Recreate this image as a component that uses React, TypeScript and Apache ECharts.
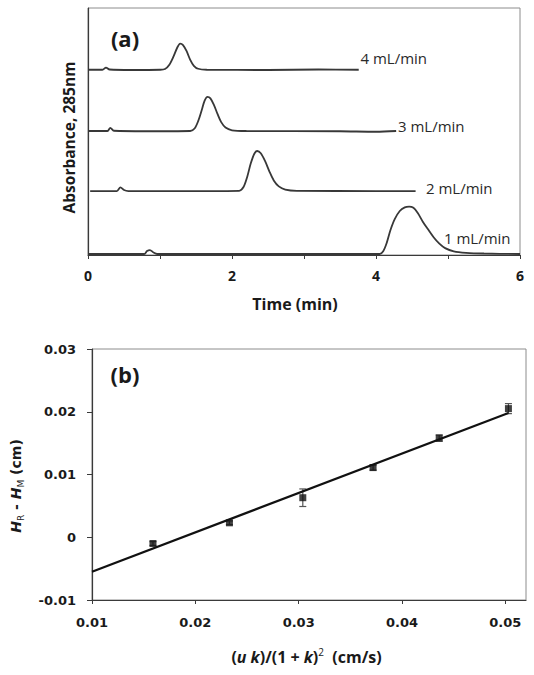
import React, { useEffect, useRef } from "react";
import * as echarts from "echarts";

// ---------- Panel (a): chromatograms (time in min, absorbance in arbitrary units, offset) ----------
const timeTickLabels = [0, 2, 4, 6];

const flow4 = [
  [0, 75], [0.2, 75], [0.25, 75.9], [0.3, 75.1], [0.6, 74.9], [1.0, 75], [1.07, 75.3],
  [1.13, 77], [1.19, 80.5], [1.24, 84], [1.28, 85.6], [1.32, 85], [1.37, 82.5], [1.42, 79],
  [1.47, 76.6], [1.53, 75.4], [1.65, 75], [2.5, 74.9], [3.2, 75.1], [3.76, 75],
];
const flow3 = [
  [0, 50.2], [0.27, 50.2], [0.31, 51.5], [0.36, 50.3], [0.8, 50.1], [1.42, 50.2], [1.48, 51.2],
  [1.53, 54.2], [1.58, 58.7], [1.62, 62.5], [1.66, 64], [1.7, 63.4], [1.75, 60.7], [1.8, 57],
  [1.85, 53.8], [1.91, 51.6], [2.0, 50.5], [2.2, 50.2], [3.5, 50.1], [4.0, 49.9], [4.28, 50.2],
];
const flow2 = [
  [0.03, 25.9], [0.4, 25.9], [0.45, 27.4], [0.5, 26.3], [0.56, 25.9], [1.5, 25.9], [2.1, 26],
  [2.16, 27.5], [2.21, 31.5], [2.26, 37], [2.31, 41], [2.35, 42.1], [2.4, 41.2], [2.46, 38],
  [2.52, 33.8], [2.58, 30.2], [2.65, 27.8], [2.74, 26.5], [2.9, 26], [4.0, 25.9], [4.55, 25.9],
];
const flow1 = [
  [0, 0.4], [0.78, 0.4], [0.82, 1.6], [0.86, 2.0], [0.91, 1.0], [0.96, 0.4], [4.05, 0.4],
  [4.1, 1.5], [4.15, 5], [4.2, 10], [4.26, 14.5], [4.33, 17.8], [4.4, 19.3], [4.46, 19.6],
  [4.52, 19.1], [4.58, 17], [4.65, 13.5], [4.72, 10.5], [4.8, 7.2], [4.88, 4.6], [4.96, 2.8],
  [5.08, 1.5], [5.25, 0.9], [5.5, 0.6], [6, 0.4],
];
const flowLabels = ["4 mL/min", "3 mL/min", "2 mL/min", "1 mL/min"];

// ---------- Panel (b): plate height difference vs (uk)/(1+k)^2 ----------
const xVals = [0.0159, 0.0233, 0.0304, 0.0372, 0.0436, 0.0503];
const yVals = [-0.001, 0.0023, 0.0063, 0.0111, 0.0158, 0.0205];
const yErrs = [0.0003, 0.0003, 0.0014, 0.0004, 0.0005, 0.0008];
const fitX = [0.01, 0.0503];
const fitY = [-0.0055, 0.0198];

const FONT_A = "'Open Sans', 'Liberation Sans', sans-serif";
const FONT_B = "'DejaVu Sans', 'Liberation Sans', sans-serif";

function buildOption(): any {
  const traceStyle = { color: "#383838", width: 1.8 };
  const traces = [flow4, flow3, flow2, flow1].map((d, i) => ({
    type: "line",
    name: flowLabels[i],
    xAxisIndex: 0,
    yAxisIndex: 0,
    data: d,
    showSymbol: false,
    symbol: "none",
    smooth: 0.3,
    lineStyle: traceStyle,
    itemStyle: { color: "#383838" },
  }));

  const labelPos = [
    [360.5, 58],
    [398, 126],
    [426, 188],
    [444, 238],
  ];

  const txt = (text: string, x: number, y: number, font: string, extra: any = {}) => ({
    type: "text",
    x,
    y,
    style: {
      text,
      font,
      fill: "#1a1a1a",
      align: "center",
      verticalAlign: "middle",
      textAlign: "center",
      textVerticalAlign: "middle",
      ...extra,
    },
  });

  return {
    animation: false,
    backgroundColor: "#ffffff",
    grid: [
      { left: 88, top: 8, width: 432, height: 247, show: true, borderColor: "#8c8c8c", borderWidth: 1, backgroundColor: "transparent" },
      { left: 92, top: 349, width: 434, height: 251, show: true, borderColor: "#8c8c8c", borderWidth: 1, backgroundColor: "transparent" },
    ],
    xAxis: [
      {
        gridIndex: 0,
        type: "value",
        min: 0,
        max: 6,
        interval: 1,
        axisLine: { show: true, onZero: false, lineStyle: { color: "#3a3a3a", width: 1.2 } },
        axisTick: { show: true, length: 4, lineStyle: { color: "#3a3a3a" } },
        axisLabel: {
          formatter: (v: number) => (timeTickLabels.includes(Math.round(v)) && Math.abs(v - Math.round(v)) < 1e-9 ? String(Math.round(v)) : ""),
          fontFamily: FONT_A,
          fontWeight: "bold",
          fontSize: 14,
          color: "#1a1a1a",
          margin: 13,
        },
        splitLine: { show: false },
      },
      {
        gridIndex: 1,
        type: "value",
        min: 0.01,
        max: 0.052,
        interval: 0.01,
        axisLine: { show: true, onZero: false, lineStyle: { color: "#3a3a3a", width: 1.2 } },
        axisTick: { show: true, length: 4, lineStyle: { color: "#3a3a3a" } },
        axisLabel: {
          showMaxLabel: false,
          formatter: (v: number) => v.toFixed(2),
          fontFamily: FONT_B,
          fontWeight: "bold",
          fontSize: 13,
          color: "#1a1a1a",
          margin: 16,
        },
        splitLine: { show: false },
      },
    ],
    yAxis: [
      {
        gridIndex: 0,
        type: "value",
        min: 0,
        max: 100,
        axisLine: { show: true, onZero: false, lineStyle: { color: "#3a3a3a", width: 1.2 } },
        axisTick: { show: false },
        axisLabel: { show: false },
        splitLine: { show: false },
      },
      {
        gridIndex: 1,
        type: "value",
        min: -0.01,
        max: 0.03,
        interval: 0.01,
        axisLine: { show: true, onZero: false, lineStyle: { color: "#3a3a3a", width: 1.2 } },
        axisTick: { show: true, length: 5, lineStyle: { color: "#3a3a3a" } },
        axisLabel: {
          formatter: (v: number) => (Math.abs(v) < 1e-9 ? "0" : v.toFixed(2)),
          fontFamily: FONT_B,
          fontWeight: "bold",
          fontSize: 13,
          color: "#1a1a1a",
          margin: 16,
        },
        splitLine: { show: false },
      },
    ],
    series: [
      ...traces,
      {
        type: "custom",
        xAxisIndex: 1,
        yAxisIndex: 1,
        data: xVals.map((x, i) => [x, yVals[i] - yErrs[i], yVals[i] + yErrs[i]]),
        encode: { x: 0, y: [1, 2] },
        z: 3,
        renderItem: (params: any, api: any) => {
          const lo = api.coord([api.value(0), api.value(1)]);
          const hi = api.coord([api.value(0), api.value(2)]);
          const w = 3.5;
          const st = { stroke: "#555", lineWidth: 1.2 };
          return {
            type: "group",
            children: [
              { type: "line", shape: { x1: lo[0], y1: lo[1], x2: hi[0], y2: hi[1] }, style: st },
              { type: "line", shape: { x1: lo[0] - w, y1: lo[1], x2: lo[0] + w, y2: lo[1] }, style: st },
              { type: "line", shape: { x1: hi[0] - w, y1: hi[1], x2: hi[0] + w, y2: hi[1] }, style: st },
            ],
          };
        },
      },
      {
        type: "line",
        xAxisIndex: 1,
        yAxisIndex: 1,
        data: fitX.map((x, i) => [x, fitY[i]]),
        showSymbol: false,
        symbol: "none",
        lineStyle: { color: "#111", width: 2.2 },
        z: 4,
      },
      {
        type: "scatter",
        xAxisIndex: 1,
        yAxisIndex: 1,
        data: xVals.map((x, i) => [x, yVals[i]]),
        symbol: "rect",
        symbolSize: 7,
        itemStyle: { color: "#111" },
        z: 5,
      },
    ],
    graphic: [
      txt("(a)", 125, 38, `bold 22px ${FONT_A}`),
      txt("(b)", 125, 374, `bold 22px ${FONT_A}`),
      ...flowLabels.map((t, i) =>
        txt(t, labelPos[i][0], labelPos[i][1], `15px ${FONT_A}`, { align: "left", textAlign: "left", fill: "#2a2a2a" })
      ),
      txt("Time (min)", 295, 303.5, `bold 16px ${FONT_A}`),
      {
        type: "text",
        x: 69,
        y: 137.5,
        rotation: Math.PI / 2,
        style: {
          text: "Absorbance, 285nm",
          font: `bold 15.5px ${FONT_A}`,
          fill: "#1a1a1a",
          align: "center",
          verticalAlign: "middle",
          textAlign: "center",
          textVerticalAlign: "middle",
        },
      },
      {
        type: "text",
        x: 16,
        y: 486,
        rotation: Math.PI / 2,
        style: {
          text: "{i|H}{s|R}{n| - }{i|H}{s|M}{n| (cm)}",
          align: "center",
          verticalAlign: "middle",
          textAlign: "center",
          textVerticalAlign: "middle",
          fill: "#1a1a1a",
          rich: {
            i: { fontFamily: FONT_B, fontWeight: "bold", fontStyle: "italic", fontSize: 14, lineHeight: 18, fill: "#1a1a1a" },
            n: { fontFamily: FONT_B, fontWeight: "bold", fontSize: 14, lineHeight: 18, fill: "#1a1a1a" },
            s: { fontFamily: FONT_B, fontSize: 9, lineHeight: 18, verticalAlign: "bottom", fill: "#1a1a1a" },
          },
        },
      },
      {
        type: "text",
        x: 306.5,
        y: 656.5,
        style: {
          text: "{n|(}{i|u k}{n|)/(1 + }{i|k}{n|)}{p|2}{n|  (cm/s)}",
          align: "center",
          verticalAlign: "middle",
          textAlign: "center",
          textVerticalAlign: "middle",
          fill: "#1a1a1a",
          rich: {
            n: { fontFamily: FONT_A, fontWeight: "bold", fontSize: 16, lineHeight: 20, fill: "#1a1a1a" },
            i: { fontFamily: FONT_A, fontWeight: "bold", fontStyle: "italic", fontSize: 16, lineHeight: 20, fill: "#1a1a1a" },
            p: { fontFamily: FONT_A, fontSize: 10, lineHeight: 18, verticalAlign: "top", fill: "#1a1a1a" },
          },
        },
      },
    ],
  };
}

export default function App() {
  const ref = useRef<HTMLDivElement>(null);
  useEffect(() => {
    document.body.style.margin = "0";
    const chart = echarts.init(ref.current!, null, { renderer: "svg" });
    chart.setOption(buildOption());
    return () => chart.dispose();
  }, []);
  return <div ref={ref} style={{ width: 534, height: 675, background: "#fff" }} />;
}
